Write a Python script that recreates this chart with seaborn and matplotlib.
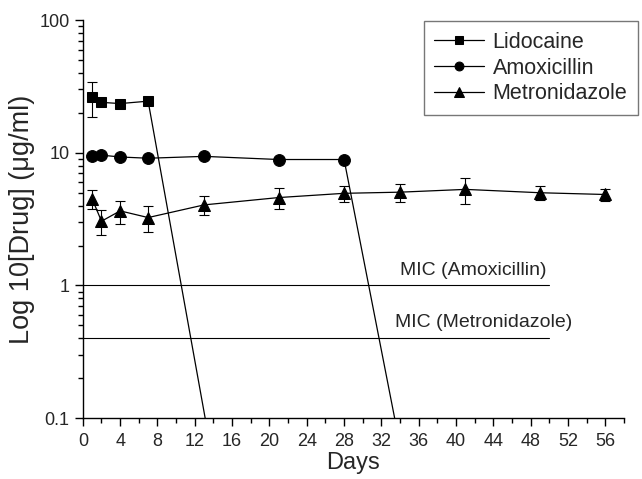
import numpy as np
import pandas as pd
import matplotlib
matplotlib.use('Agg')
import matplotlib.pyplot as plt
from matplotlib.ticker import MultipleLocator, LogLocator, FuncFormatter, NullFormatter
import seaborn as sns

# Data
lido_days = [1, 2, 4, 7, 14]
lido_conc = [26.5, 24.0, 23.5, 24.5, 0.045]
lido_err = [7.8, 0.8, 0.8, 0.8, 0.0]

amox_days = [1, 2, 4, 7, 13, 21, 28, 35]
amox_conc = [9.4, 9.6, 9.3, 9.1, 9.4, 8.9, 8.9, 0.027]
amox_err = [0.3, 0.3, 0.3, 0.3, 0.3, 0.3, 0.3, 0.0]

metro_days = [1, 2, 4, 7, 13, 21, 28, 34, 41, 49, 56]
metro_conc = [4.5, 3.05, 3.65, 3.25, 4.05, 4.6, 4.95, 5.05, 5.3, 5.0, 4.85]
metro_err = [0.75, 0.65, 0.72, 0.72, 0.65, 0.8, 0.7, 0.8, 1.2, 0.6, 0.5]

mic_values = [1.0, 0.4]
mic_labels = ['MIC (Amoxicillin)', 'MIC (Metronidazole)']
mic_text_x = [34.0, 33.5]
mic_text_y = [1.3, 0.53]

sns.set_style('ticks')
plt.rcParams['font.family'] = ['Liberation Sans', 'DejaVu Sans']

fig = plt.figure(figsize=(6.42, 4.79), dpi=100)
ax = fig.add_axes([0.129, 0.127, 0.843, 0.831])
ax.set_yscale('log')

series = [
    ('Lidocaine', lido_days, lido_conc, lido_err, 's', 7.5),
    ('Amoxicillin', amox_days, amox_conc, amox_err, 'o', 8.5),
    ('Metronidazole', metro_days, metro_conc, metro_err, '^', 9),
]
for name, d, c, e, m, ms in series:
    df = pd.DataFrame({'Days': d, 'conc': c})
    ax.errorbar(d, c, yerr=e, fmt='none', ecolor='black', elinewidth=0.8,
                capsize=3.5, capthick=0.8, zorder=2)
    sns.lineplot(data=df, x='Days', y='conc', marker=m, markersize=ms,
                 color='black', linewidth=0.9, markeredgecolor='black',
                 label=name, ax=ax, zorder=3)

for val, lab, tx, ty in zip(mic_values, mic_labels, mic_text_x, mic_text_y):
    ax.plot([0, 50], [val, val], color='black', linewidth=0.8)
    ax.text(tx, ty, lab, fontsize=14, va='center', ha='left')

ax.set_xlim(0, 58)
ax.set_ylim(0.1, 100)
ax.xaxis.set_major_locator(MultipleLocator(4))
ax.xaxis.set_minor_locator(MultipleLocator(2))
ax.yaxis.set_major_locator(LogLocator(base=10, numticks=10))
ax.yaxis.set_minor_locator(LogLocator(base=10, subs=np.arange(2, 10), numticks=10))
ax.yaxis.set_major_formatter(FuncFormatter(lambda v, p: '{:g}'.format(v)))
ax.yaxis.set_minor_formatter(NullFormatter())
ax.tick_params(axis='both', which='major', length=6, width=1, labelsize=13, direction='out', color='black')
ax.tick_params(axis='x', which='major', pad=5)
ax.tick_params(axis='both', which='minor', length=3.5, width=1, direction='out', color='black')
for s in ['left', 'bottom']:
    ax.spines[s].set_color('black')
    ax.spines[s].set_linewidth(1)
sns.despine(ax=ax)

ax.set_xlabel('Days', fontsize=17, labelpad=1)
ax.set_ylabel('Log 10[Drug] (\u03bcg/ml)', fontsize=19.5, labelpad=3)

leg = ax.legend(loc='upper right', bbox_to_anchor=(638 / 642, 1 - 21 / 479),
                bbox_transform=fig.transFigure, borderaxespad=0, fontsize=15.5,
                frameon=True, fancybox=False, edgecolor='#555555',
                markerscale=0.75, handlelength=2.3, handletextpad=0.4,
                labelspacing=0.22, borderpad=0.5)
leg.get_frame().set_linewidth(1)

fig.savefig('out.png', dpi=100)
